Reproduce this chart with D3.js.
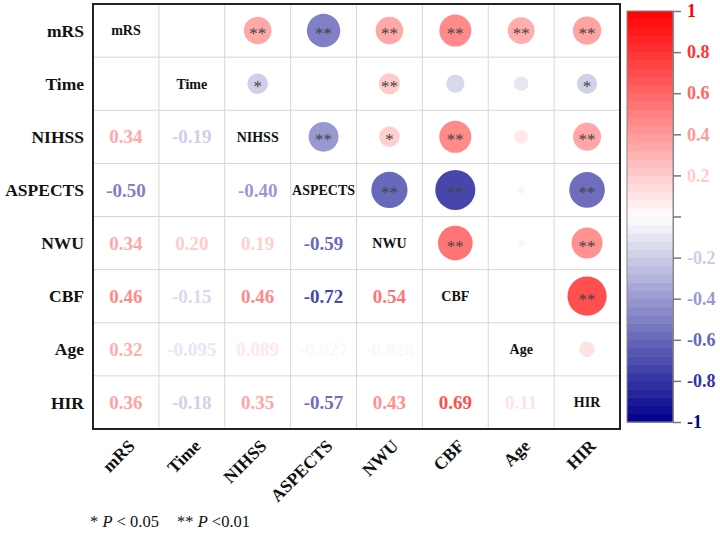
<!DOCTYPE html>
<html>
<head>
<meta charset="utf-8">
<script src="https://cdn.jsdelivr.net/npm/d3@7"></script>
<style>
  body { margin: 0; background: #fff; }
</style>
</head>
<body>
<div id="chart"></div>
<script>
// variables, in matrix order
const vars = ["mRS", "Time", "NIHSS", "ASPECTS", "NWU", "CBF", "Age", "HIR"];

// correlation matrix (symmetric), null = not shown
const corr = [
  [1,     null,   0.34,  -0.50,  0.34,   0.46,  0.32,   0.36],
  [null,  1,     -0.19,   null,  0.20,  -0.15, -0.095, -0.18],
  [0.34, -0.19,   1,     -0.40,  0.19,   0.46,  0.089,  0.35],
  [-0.50, null,  -0.40,   1,    -0.59,  -0.72, -0.027, -0.57],
  [0.34,  0.20,   0.19,  -0.59,  1,      0.54, -0.026,  0.43],
  [0.46, -0.15,   0.46,  -0.72,  0.54,   1,     null,   0.69],
  [0.32, -0.095,  0.089, -0.027, -0.026, null,  1,      0.11],
  [0.36, -0.18,   0.35,  -0.57,  0.43,   0.69,  0.11,   1]
];

// significance marks for the upper triangle
const stars = [
  ["", "", "**", "**", "**", "**", "**", "**"],
  ["", "", "*",  "",   "**", "",   "",   "*"],
  ["", "", "",   "**", "*",  "**", "",   "**"],
  ["", "", "",   "",   "**", "**", "",   "**"],
  ["", "", "",   "",   "",   "**", "",   "**"],
  ["", "", "",   "",   "",   "",   "",   "**"],
  ["", "", "",   "",   "",   "",   "",   ""],
  ["", "", "",   "",   "",   "",   "",   ""]
];

const legendTicks = [1, 0.8, 0.6, 0.4, 0.2, 0, -0.2, -0.4, -0.6, -0.8, -1];

const serif = "'Liberation Serif', 'Times New Roman', Times, serif";
const width = 720, height = 533;
const svg = d3.select("#chart").append("svg")
    .attr("width", width)
    .attr("height", height)
    .attr("font-family", serif);

const x = d3.scaleBand().domain(vars).range([93, 620]);
const y = d3.scaleBand().domain(vars).range([4, 429]);
const color = d3.scaleLinear().domain([-1, 0, 1]).range(["#00008B", "#FFFFFF", "#FF0000"]);
const rMax = 23.6;
const fmt = v => d3.format(".2r")(v).replace("\u2212", "-");

// grid lines
const grid = svg.append("g").attr("stroke", "#d6d6d6").attr("stroke-width", 1);
vars.slice(1).forEach(v => {
  grid.append("line").attr("x1", x(v)).attr("x2", x(v)).attr("y1", 4).attr("y2", 429);
  grid.append("line").attr("y1", y(v)).attr("y2", y(v)).attr("x1", 93).attr("x2", 620);
});

// cells
const cells = [];
vars.forEach((rv, i) => vars.forEach((cv, j) => {
  cells.push({row: rv, col: cv, i: i, j: j, v: corr[i][j], s: stars[i][j]});
}));

const g = svg.append("g");

// diagonal names
g.selectAll(".diag").data(cells.filter(d => d.i === d.j)).join("text")
    .attr("x", d => x(d.col) + x.bandwidth() / 2)
    .attr("y", d => y(d.row) + y.bandwidth() / 2)
    .attr("dy", "0.35em")
    .attr("text-anchor", "middle")
    .attr("font-weight", "bold")
    .attr("font-size", 14)
    .attr("fill", "#111")
    .text(d => d.row);

// lower triangle: numbers
g.selectAll(".num").data(cells.filter(d => d.i > d.j && d.v !== null)).join("text")
    .attr("x", d => x(d.col) + x.bandwidth() / 2)
    .attr("y", d => y(d.row) + y.bandwidth() / 2)
    .attr("dy", "0.35em")
    .attr("text-anchor", "middle")
    .attr("font-weight", "bold")
    .attr("font-size", 19)
    .attr("fill", d => color(d.v))
    .text(d => fmt(d.v));

// upper triangle: circles + stars
const up = cells.filter(d => d.i < d.j && d.v !== null);
g.selectAll(".circ").data(up).join("circle")
    .attr("cx", d => x(d.col) + x.bandwidth() / 2)
    .attr("cy", d => y(d.row) + y.bandwidth() / 2)
    .attr("r", d => rMax * Math.sqrt(Math.abs(d.v)))
    .attr("fill", d => color(d.v));

g.selectAll(".star").data(up.filter(d => d.s)).join("text")
    .attr("x", d => x(d.col) + x.bandwidth() / 2)
    .attr("y", d => y(d.row) + y.bandwidth() / 2)
    .attr("dy", "0.5em")
    .attr("text-anchor", "middle")
    .attr("font-size", 17)
    .attr("fill", "#444")
    .text(d => d.s);

// frame
svg.append("rect")
    .attr("x", 93).attr("y", 4)
    .attr("width", 527).attr("height", 425)
    .attr("fill", "none")
    .attr("stroke", "#222")
    .attr("stroke-width", 2);

// row labels
svg.append("g").selectAll("text").data(vars).join("text")
    .attr("x", 84)
    .attr("y", d => y(d) + y.bandwidth() / 2)
    .attr("dy", "0.35em")
    .attr("text-anchor", "end")
    .attr("font-weight", "bold")
    .attr("font-size", 17.5)
    .attr("fill", "#111")
    .text(d => d);

// column labels, rotated
svg.append("g").selectAll("text").data(vars).join("text")
    .attr("text-anchor", "end")
    .attr("font-weight", "bold")
    .attr("font-size", 17.5)
    .attr("fill", "#111")
    .attr("transform", d => `translate(${x(d) + x.bandwidth() / 2 + 10},${447}) rotate(-45)`)
    .text(d => d);

// colour legend
const ly = d3.scaleLinear().domain([-1, 1]).range([422, 11]);
const nBands = 50;
const bands = d3.range(nBands).map(k => -1 + (k + 0.5) * 2 / nBands);
const leg = svg.append("g");
leg.selectAll("rect").data(bands).join("rect")
    .attr("x", 627)
    .attr("width", 46)
    .attr("y", d => ly(d + 1 / nBands))
    .attr("height", ly(-1) - ly(-1 + 2 / nBands) + 0.5)
    .attr("fill", d => color(d));
leg.append("rect")
    .attr("x", 627).attr("y", 11).attr("width", 46).attr("height", 411)
    .attr("fill", "none").attr("stroke", "#888").attr("stroke-width", 1);

const axis = leg.append("g")
    .attr("transform", "translate(673,0)")
    .call(d3.axisRight(ly).tickValues(legendTicks).tickSize(8).tickPadding(6)
      .tickFormat(d => d3.format("~g")(d).replace("\u2212", "-")));
axis.attr("font-family", serif);
axis.select(".domain").attr("stroke", "#888");
axis.selectAll(".tick line").attr("stroke", "#777").attr("stroke-width", 1.5);
axis.selectAll(".tick text")
    .attr("font-weight", "bold")
    .attr("font-size", 18)
    .attr("fill", d => color(d));

// footnote
const fn = svg.append("text")
    .attr("x", 90).attr("y", 527)
    .attr("font-size", 16.5)
    .attr("fill", "#111");
fn.append("tspan").text("* ");
fn.append("tspan").attr("font-style", "italic").text("P");
fn.append("tspan").text(" < 0.05");
fn.append("tspan").attr("x", 177).text("** ");
fn.append("tspan").attr("font-style", "italic").text("P");
fn.append("tspan").text(" <0.01");
</script>
</body>
</html>
